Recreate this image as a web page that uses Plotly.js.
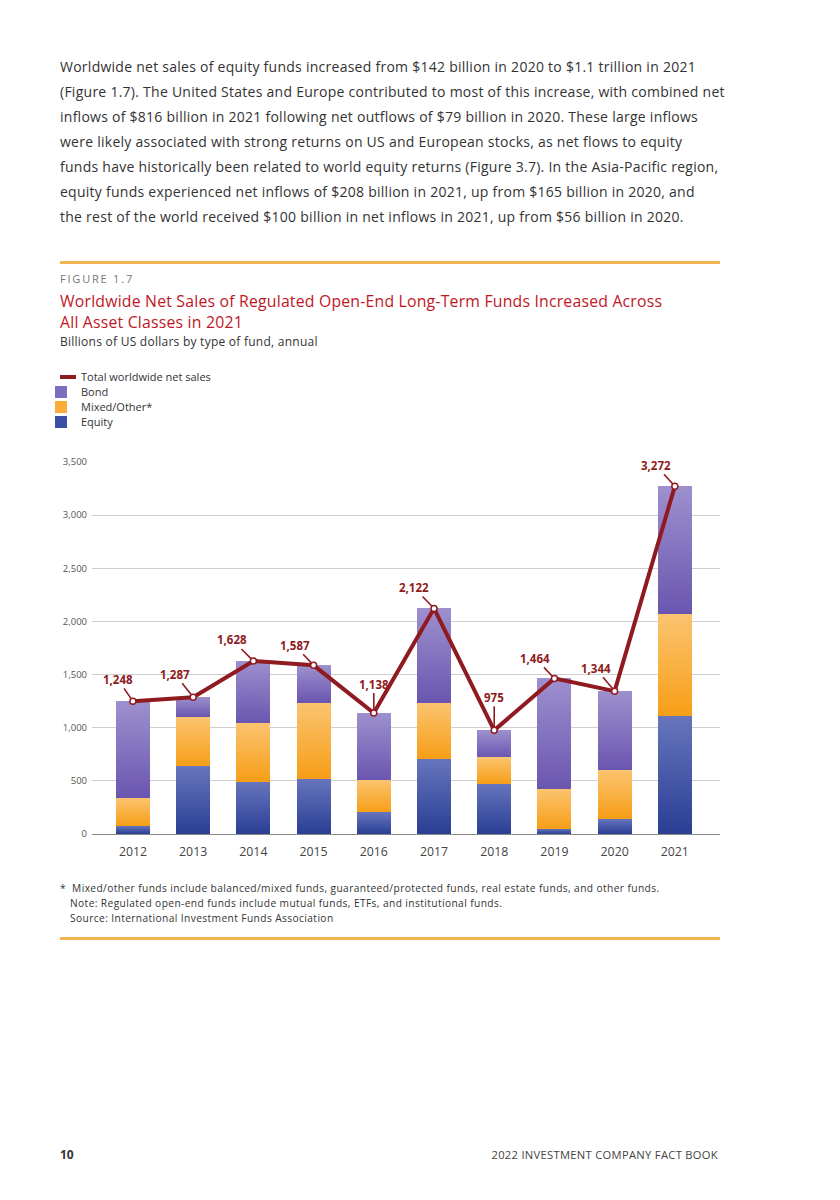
<!DOCTYPE html>
<html>
<head>
<meta charset="utf-8">
<script src="https://cdn.plot.ly/plotly-3.0.1.min.js"></script>
<style>
  html, body { margin:0; padding:0; background:#fff; }
  body { width:840px; height:1200px; position:relative; overflow:hidden; font-family:"Open Sans","Noto Sans",sans-serif; color:#333; }
  .para { position:absolute; left:60px; top:54px; font-size:14px; letter-spacing:0.26px; line-height:25px; color:#333; white-space:nowrap; }
  .rule { position:absolute; left:60px; width:660px; height:3px; background:#f1b452; }
  .fig { position:absolute; left:60px; top:271px; font-size:11px; letter-spacing:1.8px; color:#777; }
  .title { position:absolute; left:60px; top:291px; font-size:15.8px; letter-spacing:0.2px; line-height:21px; color:#c1161f; white-space:nowrap; }
  .sub { position:absolute; left:60px; top:333px; font-size:12px; letter-spacing:0.25px; color:#333; }
  .notes { position:absolute; left:60px; top:881px; font-size:10.2px; letter-spacing:0.4px; line-height:15px; color:#333; white-space:nowrap; }
  .notes .ind { padding-left:10px; }
  #chart { position:absolute; left:0; top:360px; width:840px; height:500px; }
  .pgnum { position:absolute; left:60px; top:1146px; font-size:12px; font-weight:bold; color:#333; }
  .pgtitle { position:absolute; right:122px; top:1147px; font-size:11.2px; letter-spacing:0.3px; color:#444; }
</style>
</head>
<body>
<div class="para">
Worldwide net sales of equity funds increased from $142 billion in 2020 to $1.1 trillion in 2021<br>
(Figure 1.7). The United States and Europe contributed to most of this increase, with combined net<br>
inflows of $816 billion in 2021 following net outflows of $79 billion in 2020. These large inflows<br>
were likely associated with strong returns on US and European stocks, as net flows to equity<br>
funds have historically been related to world equity returns (Figure 3.7). In the Asia-Pacific region,<br>
equity funds experienced net inflows of $208 billion in 2021, up from $165 billion in 2020, and<br>
the rest of the world received $100 billion in net inflows in 2021, up from $56 billion in 2020.
</div>
<div class="rule" style="top:261px"></div>
<div class="fig">FIGURE 1.7</div>
<div class="title">Worldwide Net Sales of Regulated Open-End Long-Term Funds Increased Across<br>All Asset Classes in 2021</div>
<div class="sub">Billions of US dollars by type of fund, annual</div>
<div id="chart"></div>
<div class="notes">
<span>*&nbsp;&nbsp;Mixed/other funds include balanced/mixed funds, guaranteed/protected funds, real estate funds, and other funds.</span><br>
<span class="ind">Note: Regulated open-end funds include mutual funds, ETFs, and institutional funds.</span><br>
<span class="ind">Source: International Investment Funds Association</span>
</div>
<div class="rule" style="top:937px"></div>
<div class="pgnum">10</div>
<div class="pgtitle">2022 INVESTMENT COMPANY FACT BOOK</div>

<script>
const years = ["2012","2013","2014","2015","2016","2017","2018","2019","2020","2021"];
const equity = [78, 636, 492, 520, 203, 709, 473, 50, 142, 1113];
const mixed  = [263, 468, 555, 716, 308, 527, 248, 376, 463, 960];
const bond   = [907, 183, 581, 351, 627, 886, 254, 1038, 739, 1199];
const total  = [1248, 1287, 1628, 1587, 1138, 2122, 975, 1464, 1344, 3272];
const totalLabels = ["1,248","1,287","1,628","1,587","1,138","2,122","975","1,464","1,344","3,272"];
const labelOffsetX = [-15, -18, -21, -19, 0, -20, 0, -19, -19, -19];
const labelOffsetY = [-22, -23, -21, -20, -29, -21, -33, -20, -23, -21];

const red = "#8f1b20";
const barW = 0.565;
const FONT = "Open Sans, Noto Sans, sans-serif";
// gradient stops (top, bottom) per series, applied to the bars after drawing
const gradients = {
  Equity: ["#6675bd", "#2a3e94"],
  "Mixed/Other*": ["#fbc470", "#f79e17"],
  Bond: ["#9e90ce", "#6a56b0"]
};

const traces = [
  {type:"bar", name:"Equity", x:years, y:equity, width:barW, marker:{color:"#3b4fa6"}, hoverinfo:"skip", legend:"legend4"},
  {type:"bar", name:"Mixed/Other*", x:years, y:mixed, width:barW, marker:{color:"#f9ad38"}, hoverinfo:"skip", legend:"legend3"},
  {type:"bar", name:"Bond", x:years, y:bond, width:barW, marker:{color:"#7f6ebf"}, hoverinfo:"skip", legend:"legend2"},
  {type:"scatter", mode:"lines", name:"Total worldwide net sales", x:years, y:total,
   line:{color:red, width:4}, hoverinfo:"skip", legend:"legend"},
  {type:"scatter", mode:"markers", name:"Total markers", x:years, y:total, showlegend:false,
   marker:{symbol:"circle", size:6, color:"#ffffff", line:{color:red, width:1.5}}, hoverinfo:"skip"}
];

const annotations = years.map((yr, i) => ({
  x: i, y: total[i], xref:"x", yref:"y",
  text: totalLabels[i], showarrow:true, arrowhead:0, arrowwidth:1.6, arrowcolor:red,
  ax: labelOffsetX[i], ay: labelOffsetY[i], standoff:3,
  font:{family:FONT, size:11.5, color:red, weight:"bold"}
}));

const plotL = 92, plotW = 628, plotTop = 102, plotH = 372;
function lx(px){ return (px - plotL) / plotW; }
function ly(pyDiv){ return 1 + (plotTop - pyDiv) / plotH; }
function legendAt(pageY){
  return {x:lx(41), y:ly(pageY - 360), xanchor:"left", yanchor:"middle",
          font:{family:FONT, size:11, color:"#333"}, itemwidth:30, bgcolor:"rgba(0,0,0,0)",
          borderwidth:0};
}

const layout = {
  width:840, height:500,
  margin:{l:92, r:120, t:102, b:26, autoexpand:false},
  paper_bgcolor:"rgba(0,0,0,0)", plot_bgcolor:"rgba(0,0,0,0)",
  barmode:"stack",
  showlegend:true,
  legend: legendAt(377),
  legend2: legendAt(392),
  legend3: legendAt(407),
  legend4: legendAt(422),
  xaxis:{type:"category", range:[-0.68, 9.75], showgrid:false, showline:true, linecolor:"#888", linewidth:1,
         ticks:"", ticklabelstandoff:6, tickfont:{family:FONT, size:12.3, color:"#444"}},
  yaxis:{range:[0,3500], tickvals:[0,500,1000,1500,2000,2500,3000,3500], tickformat:",",
         showgrid:true, gridcolor:"#cfcfcf", gridwidth:1, zeroline:false, showline:false,
         ticks:"", ticklabelstandoff:4, tickfont:{family:FONT, size:9.5, color:"#555"}},
  annotations: annotations,
  font:{family:FONT}
};

function applyGradients(gd){
  const svg = gd.querySelector("svg.main-svg");
  if (!svg) return;
  const ns = "http://www.w3.org/2000/svg";
  let defs = svg.querySelector("defs");
  if (!defs) { defs = document.createElementNS(ns, "defs"); svg.insertBefore(defs, svg.firstChild); }
  const names = Object.keys(gradients);
  names.forEach((name, k) => {
    const g = document.createElementNS(ns, "linearGradient");
    g.setAttribute("id", "grad" + k); g.setAttribute("x1","0"); g.setAttribute("y1","0");
    g.setAttribute("x2","0"); g.setAttribute("y2","1");
    [["0", gradients[name][0]], ["1", gradients[name][1]]].forEach(([o, c]) => {
      const s = document.createElementNS(ns, "stop");
      s.setAttribute("offset", o); s.setAttribute("stop-color", c); g.appendChild(s);
    });
    defs.appendChild(g);
  });
  gd.querySelectorAll(".barlayer .trace.bars").forEach(tr => {
    const d = tr.__data__;
    const nm = d && d[0] && d[0].trace ? d[0].trace.name : null;
    const k = names.indexOf(nm);
    if (k < 0) return;
    tr.querySelectorAll(".point path").forEach(p => { p.style.fill = "url(#grad" + k + ")"; });
  });
  gd.querySelectorAll(".legend .traces").forEach(tr => {
    const d = tr.__data__;
    const nm = d && d[0] && d[0].trace ? d[0].trace.name : null;
    const k = names.indexOf(nm);
    if (k >= 0) tr.querySelectorAll(".legendpoints path").forEach(p => { p.style.fill = "url(#grad" + k + ")"; });
    tr.querySelectorAll(".legendlines path").forEach(p => { p.setAttribute("d", "M19,0h16"); });
  });
}

Plotly.newPlot("chart", traces, layout, {staticPlot:true, displayModeBar:false}).then(applyGradients);
</script>
</body>
</html>
